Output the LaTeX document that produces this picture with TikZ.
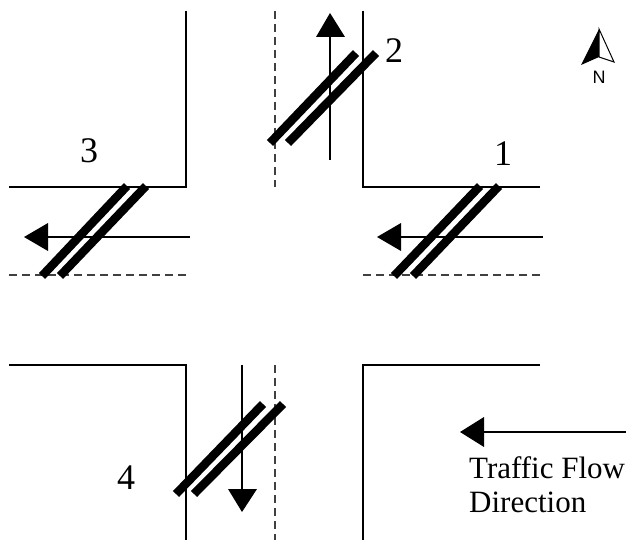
\documentclass[tikz,border=0pt]{standalone}
\usepackage{fontspec}
\setmainfont{Liberation Serif}
\newfontfamily\nfont{Liberation Sans}
\tikzset{
  road/.style={draw=black,line width=1.5pt},
  center/.style={draw=black!75,line width=1.3pt,dash pattern=on 8pt off 5pt},
  det/.style={draw=black,line width=8.5pt},
  flow/.style={draw=black,line width=1.3pt},
  head/.style={fill=black,draw=none},
  lab/.style={font=\fontsize{36}{36}\selectfont,inner sep=0pt}
}
\begin{document}
\begin{tikzpicture}[x=1pt,y=-1pt]
\useasboundingbox (0,0) rectangle (626,540);
% roads
\draw[road] (186,11) -- (186,187) -- (9,187);
\draw[road] (363,11) -- (363,187) -- (540,187);
\draw[road] (9,365) -- (186,365) -- (186,540);
\draw[road] (363,540) -- (363,365) -- (540,365);
% centre lines
\draw[center] (275,11) -- (275,187);
\draw[center] (9,275) -- (186,275);
\draw[center] (363,275) -- (540,275);
\draw[center] (275,365) -- (275,540);
% flow arrows
\draw[flow] (330,160) -- (330,37);
\fill[head] (316,37) -- (345,37) -- (330,13) -- cycle;
\draw[flow] (190,237) -- (48,237);
\fill[head] (48,223) -- (48,251) -- (24,237) -- cycle;
\draw[flow] (543,237) -- (401,237);
\fill[head] (401,223) -- (401,251) -- (377,237) -- cycle;
\draw[flow] (242,365) -- (242,489);
\fill[head] (228,489) -- (257,489) -- (242,512) -- cycle;
\draw[flow] (626,432) -- (484,432);
\fill[head] (484,417) -- (484,447) -- (460,432) -- cycle;
% detectors
\draw[det] (127,186) -- (42,276);
\draw[det] (146,186) -- (60,276);
\draw[det] (480,186) -- (394,276);
\draw[det] (499,186) -- (413,276);
\draw[det] (356,53) -- (270,143);
\draw[det] (376,53) -- (288,143);
\draw[det] (263,404) -- (176,494);
\draw[det] (283,404) -- (194,494);
% labels
\node[lab] (n3) at (89,151) {3};
\node[lab] (n1) at (503,154) {1};
\node[lab] (n2) at (394,51) {2};
\node[lab] (n4) at (126,478) {4};
\node[anchor=base west,inner sep=0pt,font=\fontsize{31}{31}\selectfont] (t1) at (469,478) {Traffic Flow};
\node[anchor=base west,inner sep=0pt,font=\fontsize{31}{31}\selectfont] (t2) at (469,512) {Direction};
% north
\fill[black] (599,29) -- (581,65) -- (599,57) -- cycle;
\draw[black,line width=1pt,fill=white] (599,29) -- (614,62) -- (599,57) -- cycle;
\node[inner sep=0pt,font=\nfont\fontsize{18}{18}\selectfont] (north) at (599,77) {N};
\end{tikzpicture}
\end{document}
